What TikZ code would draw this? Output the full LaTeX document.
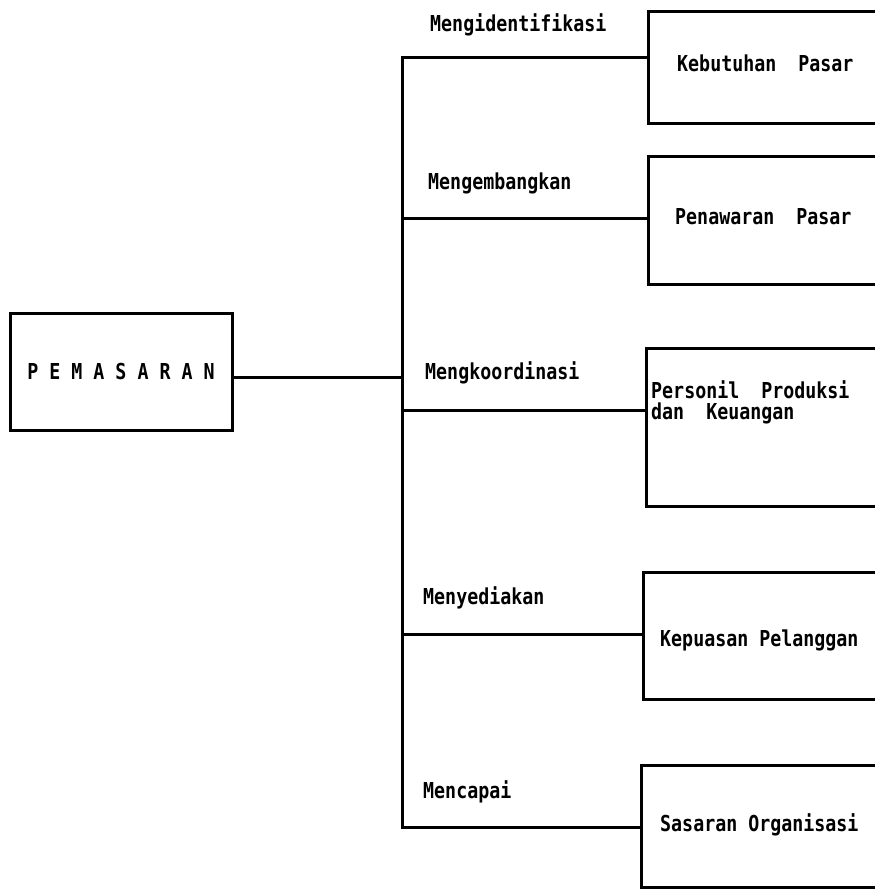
\documentclass[tikz,border=0pt]{standalone}
\usepackage{fontspec}
\setmonofont{DejaVu Sans Mono}
\newcommand{\tallt}[1]{\scalebox{1}[1.2]{#1}}
\begin{document}
\begin{tikzpicture}[x=1pt,y=-1pt,
  every node/.style={font=\ttfamily\bfseries\fontsize{18.3}{22}\selectfont, inner sep=0pt},
  ln/.style={line width=3pt, line cap=rect},
  bx/.style={draw, line width=3pt, rectangle, anchor=north west},
  lbl/.style={anchor=west},
  txt/.style={anchor=west, align=left}]
\path[use as bounding box, clip] (0,0) rectangle (875,889);
% left box
\node[draw, line width=3pt, minimum width=222pt, minimum height=117pt] (pem) at (121,371.5) {\tallt{P~E~M~A~S~A~R~A~N}};
% right boxes (extend past the right edge)
\node[bx, minimum width=260pt, minimum height=112pt] (b1) at (647,10) {};
\node[bx, minimum width=260pt, minimum height=128pt] (b2) at (647,155) {};
\node[bx, minimum width=260pt, minimum height=158pt] (b3) at (645,347) {};
\node[bx, minimum width=260pt, minimum height=127pt] (b4) at (642,571) {};
\node[bx, minimum width=260pt, minimum height=122pt] (b5) at (640,764) {};
% spine coordinates
\coordinate (s1) at (402,57);
\coordinate (s2) at (402,218);
\coordinate (s3) at (402,410);
\coordinate (s4) at (402,634);
\coordinate (s5) at (402,827);
\coordinate (sm) at (402,377);
% connectors
\draw[ln] (s1 -| b1.west) -- (s1) -- (s5) -- (s5 -| b5.west);
\draw[ln] (s2) -- (s2 -| b2.west);
\draw[ln] (s3) -- (s3 -| b3.west);
\draw[ln] (s4) -- (s4 -| b4.west);
\draw[ln] (sm -| pem.east) -- (sm);
% labels on branches
\node[lbl] (l1) at (430,25) {\tallt{Mengidentifikasi}};
\node[lbl] (l2) at (428,183) {\tallt{Mengembangkan}};
\node[lbl] (l3) at (425,373) {\tallt{Mengkoordinasi}};
\node[lbl] (l4) at (423,598) {\tallt{Menyediakan}};
\node[lbl] (l5) at (423,792) {\tallt{Mencapai}};
% box texts
\node[txt] (t1) at (677,63) {\tallt{Kebutuhan~~Pasar}};
\node[txt] (t2) at (675,217) {\tallt{Penawaran~~Pasar}};
\node[txt] (t3a) at (651,390) {\tallt{Personil~~Produksi}};
\node[txt] (t3b) at (651,413) {\tallt{dan~~Keuangan}};
\node[txt] (t4) at (660,640) {\tallt{Kepuasan Pelanggan}};
\node[txt] (t5) at (660,825) {\tallt{Sasaran Organisasi}};
\end{tikzpicture}
\end{document}
